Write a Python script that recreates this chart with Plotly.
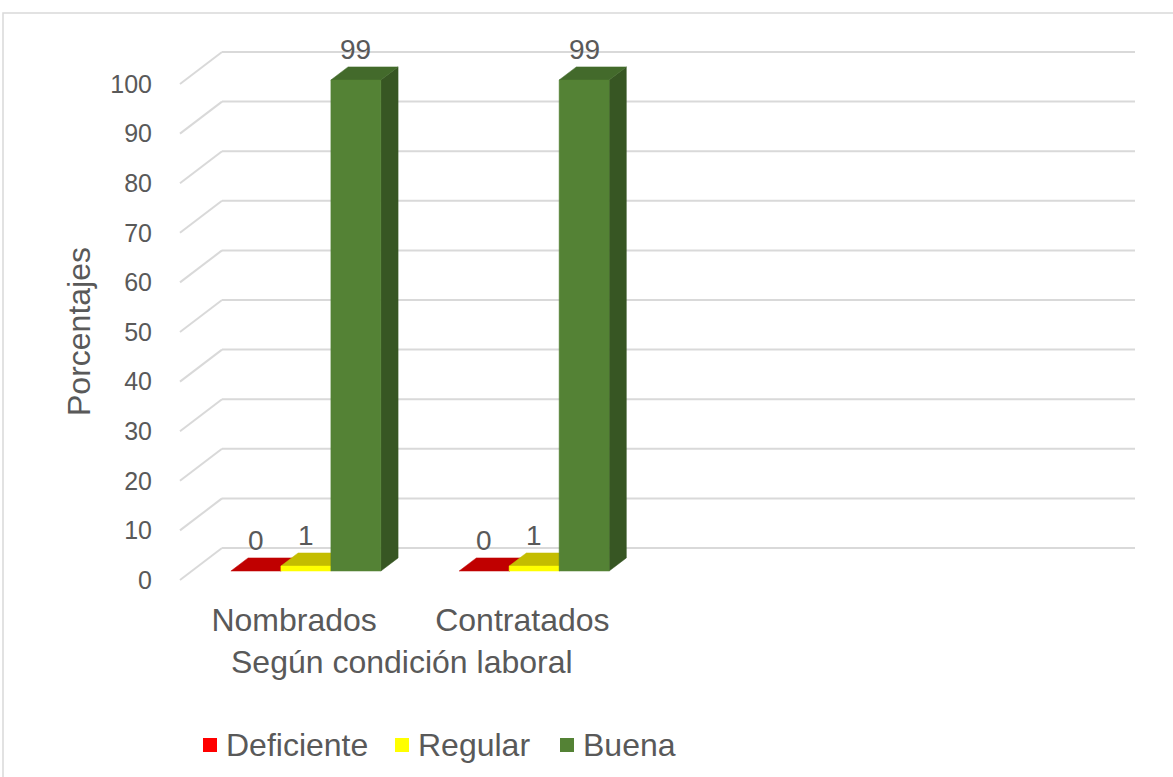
import plotly.graph_objects as go

# ---------------- data ----------------
categories = ["Nombrados", "Contratados"]
n_slots = 4  # the category axis has four slots, two of them empty
series_names = ["Deficiente", "Regular", "Buena"]
deficiente = [0, 0]
regular = [1, 1]
buena = [99, 99]
series_values = [deficiente, regular, buena]
y_ticks = list(range(0, 101, 10))

# ---------------- style ----------------
front_colors = ["#FF0000", "#FFFF00", "#548235"]
top_colors = ["#C00000", "#C4BD00", "#436A2B"]
side_colors = ["#A00000", "#A39E00", "#375623"]
legend_colors = ["#FF0000", "#FFFF00", "#548235"]
grid_color = "#D9D9D9"
text_color = "#595959"
FONT = "Liberation Sans, Arial, sans-serif"
BIG = 32

W, H = 1173, 777
# plot-area geometry (pixels)
L, R, T, B = 153, 1160, 30, 598
PX_CAT = 228.25      # pixels per category slot
PX_PCT = 4.96        # pixels per percentage point
X0_PX, Y0_PX = 180, 580   # front-left corner of the floor
DX = 42 / PX_CAT     # depth offset, category units
DY = 32 / PX_PCT     # depth offset, percent units
D0, D1 = 0.28, 0.69  # bar depth span (fraction of wall depth)
BW = 0.219           # bar width (category units)

x_range = [-0.5 - (X0_PX - L) / PX_CAT, -0.5 + (R - X0_PX) / PX_CAT]
y_range = [-(B - Y0_PX) / PX_PCT, (Y0_PX - T) / PX_PCT]


def px_to_paper_x(px):
    return (px - L) / (R - L)


def px_to_paper_y(py):
    return (B - py) / (B - T)


fig = go.Figure()

# ---------------- walls / gridlines ----------------
gx, gy = [], []
x_left = -0.5
x_right = n_slots - 0.5
for v in y_ticks:
    gx += [x_left + DX, x_right + DX, None]
    gy += [v + DY, v + DY, None]
    gx += [x_left, x_left + DX, None]
    gy += [v, v + DY, None]
fig.add_trace(go.Scatter(x=gx, y=gy, mode="lines",
                         line=dict(color=grid_color, width=2),
                         hoverinfo="skip", showlegend=False))

# ---------------- 3D bars ----------------
n_series = len(series_values)
for ci, cat in enumerate(categories):
    for si in range(n_series):
        v = series_values[si][ci]
        xl = ci - n_series * BW / 2 + si * BW
        xr = xl + BW
        fig.add_trace(go.Scatter(
            x=[xr + D0 * DX, xr + D1 * DX, xr + D1 * DX, xr + D0 * DX, xr + D0 * DX],
            y=[D0 * DY, D1 * DY, v + D1 * DY, v + D0 * DY, D0 * DY],
            fill="toself", fillcolor=side_colors[si], mode="lines",
            line=dict(width=0.5, color=side_colors[si]),
            hoverinfo="skip", showlegend=False))
        fig.add_trace(go.Scatter(
            x=[xl + D0 * DX, xr + D0 * DX, xr + D1 * DX, xl + D1 * DX, xl + D0 * DX],
            y=[v + D0 * DY, v + D0 * DY, v + D1 * DY, v + D1 * DY, v + D0 * DY],
            fill="toself", fillcolor=top_colors[si], mode="lines",
            line=dict(width=0.5, color=top_colors[si]),
            hoverinfo="skip", showlegend=False))
        if v > 0:
            fig.add_trace(go.Scatter(
                x=[xl + D0 * DX, xr + D0 * DX, xr + D0 * DX, xl + D0 * DX, xl + D0 * DX],
                y=[D0 * DY, D0 * DY, v + D0 * DY, v + D0 * DY, D0 * DY],
                fill="toself", fillcolor=front_colors[si], mode="lines",
                line=dict(width=0.5, color=front_colors[si]),
                name=series_names[si],
                hovertemplate=f"{cat}: {v}<extra>{series_names[si]}</extra>",
                showlegend=False))
        fig.add_annotation(x=(xl + xr) / 2 + D0 * DX, y=v + D1 * DY,
                           text=str(v), showarrow=False, yanchor="bottom",
                           font=dict(size=28, color=text_color, family=FONT))

# ---------------- legend (drawn manually) ----------------
legend_sq_x = [203, 395, 560]   # left edge of each legend swatch (px)
legend_y = 745
sq = 14
for si in range(n_series):
    x0 = legend_sq_x[si]
    fig.add_shape(type="rect", xref="paper", yref="paper",
                  x0=px_to_paper_x(x0), x1=px_to_paper_x(x0 + sq),
                  y0=px_to_paper_y(legend_y + sq / 2), y1=px_to_paper_y(legend_y - sq / 2),
                  fillcolor=legend_colors[si], line=dict(width=0))
    fig.add_annotation(text=series_names[si], showarrow=False,
                       xref="paper", yref="paper",
                       x=px_to_paper_x(x0 + sq + 7), y=px_to_paper_y(legend_y),
                       xanchor="left", yanchor="middle",
                       font=dict(size=BIG, color=text_color, family=FONT))

# ---------------- titles ----------------
fig.add_annotation(text="Porcentajes", textangle=-90, showarrow=False,
                   xref="paper", yref="paper",
                   x=px_to_paper_x(79), y=px_to_paper_y(332),
                   xanchor="center", yanchor="middle",
                   font=dict(size=BIG, color=text_color, family=FONT))
fig.add_annotation(text="Según condición laboral", showarrow=False,
                   xref="paper", yref="paper",
                   x=px_to_paper_x(402), y=px_to_paper_y(662),
                   xanchor="center", yanchor="middle",
                   font=dict(size=BIG, color=text_color, family=FONT))

# chart border
fig.add_shape(type="rect", xref="paper", yref="paper", layer="below",
              x0=px_to_paper_x(3), x1=px_to_paper_x(1190),
              y0=px_to_paper_y(800), y1=px_to_paper_y(13),
              line=dict(color="#D9D9D9", width=1.5))

fig.update_layout(
    width=W, height=H,
    margin=dict(l=L, r=W - R, t=T, b=H - B),
    paper_bgcolor="white", plot_bgcolor="white",
    font=dict(family=FONT, color=text_color),
    xaxis=dict(range=x_range, tickvals=list(range(len(categories))), ticktext=categories,
               showgrid=False, zeroline=False, showline=False, ticks="",
               tickfont=dict(size=BIG, color=text_color, family=FONT), fixedrange=True),
    yaxis=dict(range=y_range, tickvals=y_ticks, showgrid=False, zeroline=False,
               showline=False, ticks="",
               tickfont=dict(size=25, color=text_color, family=FONT), fixedrange=True),
    showlegend=False,
)

fig.write_html("out.html", config={"displayModeBar": False},
               post_script="document.body.style.margin='0';document.body.style.overflow='hidden';")
